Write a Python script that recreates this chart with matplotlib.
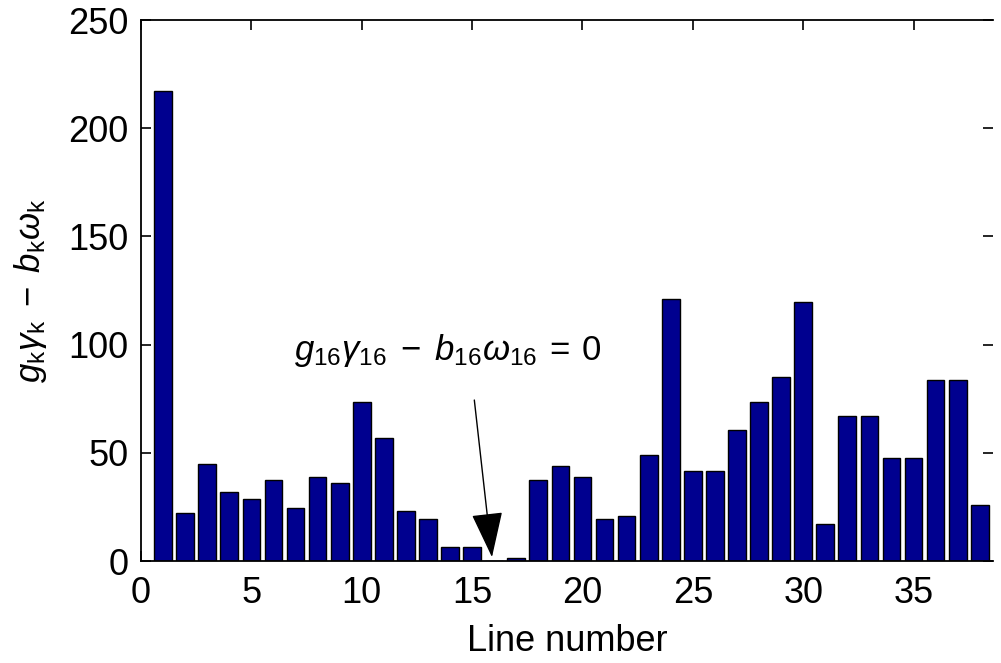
import numpy as np
import matplotlib
matplotlib.use('Agg')
import matplotlib.pyplot as plt

plt.rcParams['font.family'] = ['Liberation Sans', 'DejaVu Sans']
plt.rcParams['mathtext.fontset'] = 'custom'
plt.rcParams['mathtext.rm'] = 'Liberation Sans'
plt.rcParams['mathtext.it'] = 'Liberation Sans:italic'
plt.rcParams['mathtext.bf'] = 'Liberation Sans:bold'

# line index and value of g_k*gamma_k - b_k*omega_k
line_number = np.arange(1, 39)
values = [217, 22, 45, 32, 28.5, 37.4, 24.6, 38.7, 36, 73.3,
          56.7, 23.3, 19.4, 6.6, 6.6, 0, 1.4, 37.4, 43.8, 38.7,
          19.5, 20.8, 49, 120.9, 41.4, 41.4, 60.5, 73.3, 84.9, 119.5,
          17, 66.9, 66.9, 47.7, 47.7, 83.6, 83.6, 25.9]

x_ticks = [0, 5, 10, 15, 20, 25, 30, 35]
y_ticks = [0, 50, 100, 150, 200, 250]

fig = plt.figure(figsize=(10.01, 6.63), dpi=100)
ax = fig.add_axes([0.1409, 0.1538, 0.8511, 0.816])

ax.bar(line_number, values, width=0.8, color='#00008f', edgecolor='black',
       linewidth=1, zorder=2)

ax.set_xlim(0, 38.6)
ax.set_ylim(0, 250)
ax.set_xticks(x_ticks)
ax.set_yticks(y_ticks)
ax.set_axisbelow(True)
ax.spines['right'].set_visible(False)
for s in ['left', 'top', 'bottom']:
    ax.spines[s].set_linewidth(1.3)
    ax.spines[s].set_zorder(3)
ax.tick_params(direction='in', length=7, width=1.2, labelsize=26,
               top=True, right=True)
ax.tick_params(axis='x', pad=11)
ax.tick_params(axis='y', pad=9)

ax.set_xlabel('Line number', fontsize=26, labelpad=9)
ax.set_ylabel(r'$g_\mathrm{k}\gamma_\mathrm{k}\;-\;b_\mathrm{k}\omega_\mathrm{k}$',
              fontsize=25, labelpad=14)

ax.text(13.9, 97.5,
        r'$g_{\mathrm{16}}\gamma_{\mathrm{16}}\;-\;b_{\mathrm{16}}\omega_{\mathrm{16}}\:=\:\mathrm{0}$',
        fontsize=25, ha='center', va='center')
ax.annotate('', xy=(15.9, 1.8), xytext=(15.1, 74.4),
            arrowprops=dict(arrowstyle='-|>,head_length=1.45,head_width=0.5',
                            mutation_scale=20, color='black', lw=1,
                            shrinkA=0, shrinkB=0),
            zorder=4)

fig.savefig('out.png', dpi=100)
